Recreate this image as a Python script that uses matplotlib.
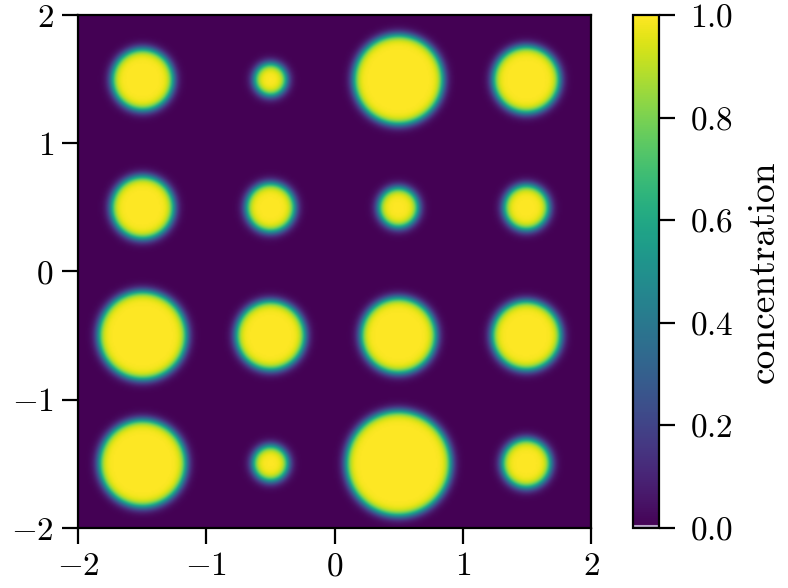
import matplotlib
matplotlib.use("Agg")
import matplotlib.pyplot as plt
import numpy as np

plt.rcParams['font.family'] = 'serif'
plt.rcParams['font.serif'] = ['cmr10', 'DejaVu Serif']
plt.rcParams['mathtext.fontset'] = 'cm'
plt.rcParams['axes.formatter.use_mathtext'] = True
plt.rcParams['font.size'] = 24

# circle centres and radii (row by row, top to bottom)
x_centres = [-1.5, -0.5, 0.5, 1.5]
y_centres = [1.5, 0.5, -0.5, -1.5]
radii = np.array([
    [0.24, 0.125, 0.35, 0.26],
    [0.245, 0.19, 0.155, 0.175],
    [0.345, 0.27, 0.295, 0.27],
    [0.34, 0.137, 0.41, 0.19],
])
width = 0.04  # interface width

n = 400
xs = np.linspace(-2, 2, n)
X, Y = np.meshgrid(xs, xs)
conc = np.zeros_like(X)
for i, yc in enumerate(y_centres):
    for j, xc in enumerate(x_centres):
        d = np.sqrt((X - xc)**2 + (Y - yc)**2)
        conc = np.maximum(conc, 0.5*(1 - np.tanh((d - radii[i, j])/width)))

fig = plt.figure(figsize=(7.88, 5.88), dpi=100)
ax = fig.add_axes([78/788, 60/588, 513/788, 513/588])
cax = fig.add_axes([633/788, 60/588, 26/788, 513/588])

im = ax.imshow(conc, extent=[-2, 2, -2, 2], origin='lower', cmap='viridis',
               vmin=0, vmax=1, interpolation='bilinear')
ax.set_xticks([-2, -1, 0, 1, 2])
ax.set_yticks([-2, -1, 0, 1, 2])
ax.tick_params(length=11.5, width=1.6, pad=6)
for s in ax.spines.values():
    s.set_linewidth(1.6)

cb = fig.colorbar(im, cax=cax)
cb.set_ticks([0.0, 0.2, 0.4, 0.6, 0.8, 1.0])
cb.ax.tick_params(length=11.5, width=1.6, pad=11)
cb.outline.set_linewidth(1.6)
cb.set_label('concentration', fontsize=27, labelpad=10)
cb.ax.axhline(0.004, color='#b8a8c8', lw=1.5)

fig.savefig('out.png', dpi=100)
